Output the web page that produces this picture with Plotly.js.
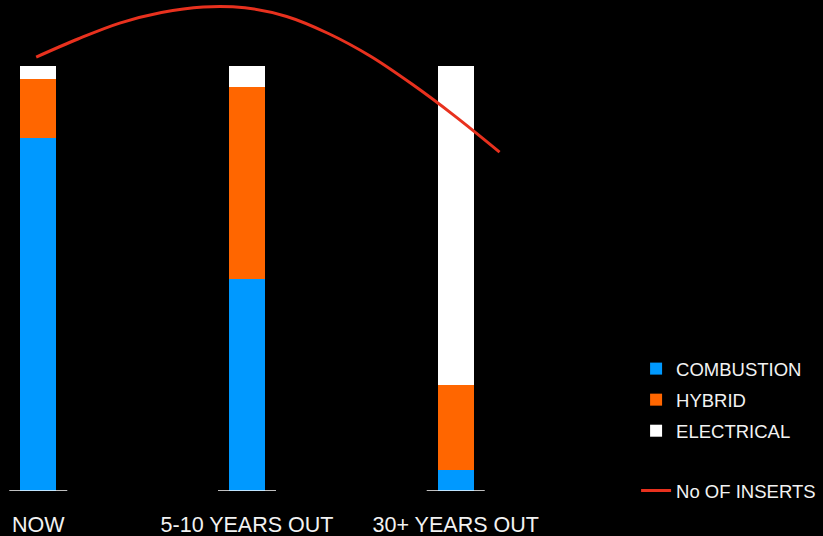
<!DOCTYPE html>
<html>
<head>
<meta charset="utf-8">
<script src="https://cdn.plot.ly/plotly-3.0.1.min.js"></script>
<style>
  html, body { margin: 0; padding: 0; background: #000; }
  #chart { width: 823px; height: 536px; }
</style>
</head>
<body>
<div id="chart"></div>
<script>
// Share of vehicle types per horizon (percent of total)
const horizons = ['NOW', '5-10 YEARS OUT', '30+ YEARS OUT'];
const combustion = [83, 50, 5];
const hybrid = [14, 45, 20];
const electrical = [3, 5, 75];

// Number of inserts trend, sampled along the horizon axis
const insertsX = [-0.01, 0.19, 0.39, 0.59, 0.79, 0.99, 1.19, 1.39, 1.59, 1.79, 1.99, 2.21];
const insertsY = [204.2, 212.7, 220.2, 225.2, 227.8, 227.4, 223.3, 215.3, 204.7, 191.5, 176.9, 159.5];

const FONT = 'Liberation Sans, Arial, sans-serif';
const TEXT = '#f2f2f2';
const XRANGE = [-0.1833, 2.8014];

function barTrace(name, values, color, group) {
  return {
    type: 'bar',
    name: name,
    x: horizons,
    y: values,
    width: 0.1725,
    marker: { color: color, line: { width: 0 } },
    legendgroup: group,
    hoverinfo: 'skip'
  };
}

const traces = [
  barTrace('COMBUSTION', combustion, '#0099ff', 'g1'),
  barTrace('HYBRID', hybrid, '#ff6600', 'g2'),
  barTrace('ELECTRICAL', electrical, '#ffffff', 'g3'),
  {
    type: 'scatter',
    mode: 'lines',
    name: 'No OF INSERTS',
    x: insertsX,
    y: insertsY,
    xaxis: 'x2',
    yaxis: 'y2',
    line: { color: '#e8311e', width: 3, shape: 'spline', smoothing: 1 },
    legend: 'legend2',
    hoverinfo: 'skip'
  }
];

// short white baselines under each bar
const baseShapes = horizons.map((h, i) => ({
  type: 'line', xref: 'x', yref: 'y',
  x0: i - 0.139, x1: i + 0.139, y0: 0, y1: 0,
  line: { color: '#ffffff', width: 1.5 }
}));

const legendStyle = {
  font: { family: FONT, size: 18.5, color: TEXT },
  bgcolor: 'rgba(0,0,0,0)',
  borderwidth: 0,
  itemwidth: 30,
  xanchor: 'left',
  yanchor: 'top'
};

const layout = {
  width: 823,
  height: 536,
  paper_bgcolor: '#000000',
  plot_bgcolor: '#000000',
  margin: { l: 0, r: 200, t: 0, b: 45, pad: 0 },
  barmode: 'stack',
  showlegend: true,
  xaxis: {
    type: 'category',
    range: XRANGE,
    showgrid: false, zeroline: false, showline: false,
    ticks: '',
    ticklabelstandoff: 18,
    tickfont: { family: FONT, size: 21.5, color: TEXT },
    automargin: false,
    fixedrange: true
  },
  yaxis: { range: [0, 115.53], visible: false, fixedrange: true },
  xaxis2: { overlaying: 'x', type: 'linear', range: XRANGE, visible: false },
  yaxis2: { overlaying: 'y', range: [0, 231.06], visible: false },
  legend: Object.assign({}, legendStyle, {
    x: 1.021, y: 0.287, traceorder: 'grouped', tracegroupgap: 4
  }),
  legend2: Object.assign({}, legendStyle, { x: 1.021, y: 0.039 }),
  shapes: baseShapes
};

Plotly.newPlot('chart', traces, layout, { staticPlot: true, displayModeBar: false });
</script>
</body>
</html>
